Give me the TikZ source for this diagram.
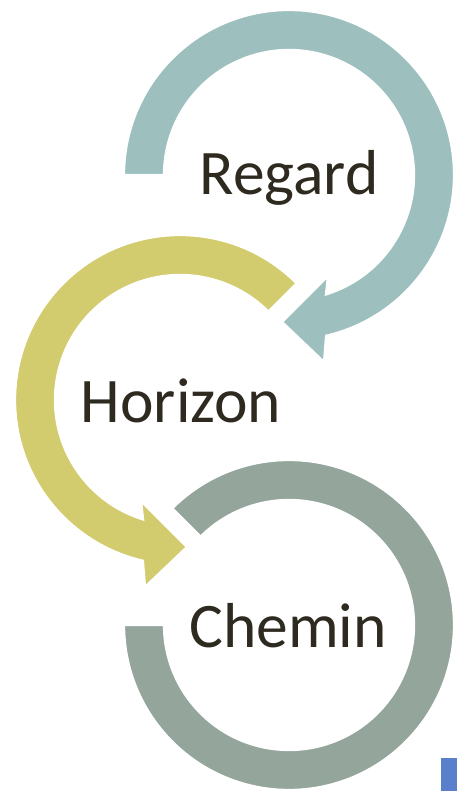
\documentclass[tikz,border=0pt]{standalone}
\usepackage{fontspec}
\setmainfont{Carlito}
\usepackage{tikz}
\definecolor{regardcol}{HTML}{9DBFBE}
\definecolor{horizoncol}{HTML}{D3CC6E}
\definecolor{chemincol}{HTML}{94A59C}
\definecolor{markcol}{HTML}{5A7FCB}
\definecolor{inkcol}{HTML}{2E2A20}
\tikzset{
ARROW/.style ={fill=#1,draw=white,line join=miter,miter limit=4.00,line width=0.8 mm},
ARROW/.default = regardcol,
LABEL/.style ={text=inkcol,anchor=base,inner sep=0pt,font=\fontsize{63.5}{64}\selectfont},
}

\begin{document}
\begin{tikzpicture} %three circular arrows
[x=1pt,y=1pt]
	\useasboundingbox (0,0) rectangle (457,791);
	% top arrow
	\begin{scope}[shift={(289,616)}]
	\path[ARROW=regardcol] (180:165) arc[start angle=180,end angle=-77,radius=165]
		-- (35,-187) -- (-7,-147) -- (39,-101) -- (-72.8:125)
		arc[start angle=-72.8,end angle=180,radius=125] -- cycle;
	\end{scope}
	% middle arrow
	\begin{scope}[shift={(180,391)}]
	\path[ARROW=horizoncol] (45:165) arc[start angle=45,end angle=257,radius=165]
		-- (-35,-187) -- (7,-147) -- (-39,-101) -- (252.8:125)
		arc[start angle=252.8,end angle=45,radius=125] -- cycle;
	\end{scope}
	% bottom ring
	\begin{scope}[shift={(289,166)}]
	\path[ARROW=chemincol] (135:165) arc[start angle=135,end angle=-180,radius=165]
		-- (180:125) arc[start angle=-180,end angle=135,radius=125] -- cycle;
	\end{scope}
	\node[LABEL] (regard) at (289,596) {Regard};
	\node[LABEL] (horizon) at (181,368) {Horizon};
	\node[LABEL] (chemin) at (288,143) {Chemin};
	\fill[markcol] (441,0) rectangle (457,33);
\end{tikzpicture}
\end{document}
